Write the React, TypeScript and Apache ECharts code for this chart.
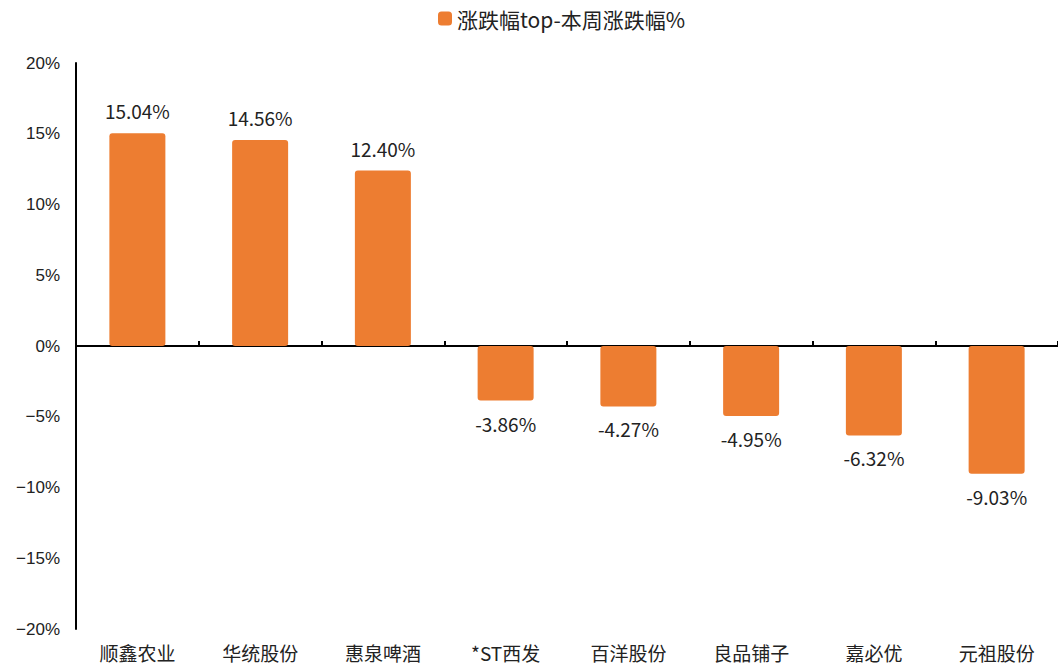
import React, { useEffect, useRef } from "react";
import * as echarts from "echarts";

const categories = ["顺鑫农业", "华统股份", "惠泉啤酒", "*ST西发", "百洋股份", "良品铺子", "嘉必优", "元祖股份"];
const values = [15.04, 14.56, 12.4, -3.86, -4.27, -4.95, -6.32, -9.03];
const seriesName = "涨跌幅top-本周涨跌幅%";
const yTicks = { min: -20, max: 20, interval: 5 };

export default function App() {
  const ref = useRef<HTMLDivElement>(null);
  useEffect(() => {
    if (!ref.current) return;
    const chart = echarts.init(ref.current, null, { renderer: "svg" });
    chart.setOption({
      animation: false,
      backgroundColor: "#ffffff",
      legend: {
        top: 3,
        left: 433,
        itemWidth: 14,
        itemHeight: 14,
        itemGap: 6,
        icon: "roundRect",
        textStyle: { fontFamily: "Noto Sans CJK SC", fontSize: 21, color: "#222" },
        data: [seriesName],
      },
      grid: { left: 76, width: 1000, top: 63, height: 566, containLabel: false },
      xAxis: [
        {
          type: "category",
          data: categories,
          position: "bottom",
          axisLine: { show: false, onZero: false },
          axisTick: { show: false },
          axisLabel: {
            fontFamily: "Noto Sans CJK SC",
            fontSize: 19,
            lineHeight: 22,
            color: "#222",
            margin: 12,
            interval: 0,
          },
        },
        {
          type: "category",
          data: categories,
          position: "bottom",
          axisLine: { show: true, onZero: true, onZeroAxisIndex: 0, lineStyle: { color: "#000", width: 2 } },
          axisTick: { show: true, inside: true, length: 5, lineStyle: { color: "#000", width: 2 } },
          axisLabel: { show: false },
        },
      ],
      yAxis: {
        type: "value",
        min: yTicks.min,
        max: yTicks.max,
        interval: yTicks.interval,
        splitLine: { show: false },
        axisLine: { show: true, lineStyle: { color: "#000", width: 2 } },
        axisTick: { show: false },
        axisLabel: {
          fontFamily: "Liberation Sans",
          fontSize: 17,
          color: "#222",
          margin: 16,
          formatter: (v: number) => (v < 0 ? "\u2212" + Math.abs(v) : String(v)) + "%",
        },
      },
      series: [
        {
          name: seriesName,
          type: "bar",
          xAxisIndex: 0,
          data: values.map((v) => ({
            value: v,
            label: { position: v >= 0 ? "top" : "bottom" },
          })),
          barWidth: 56,
          itemStyle: { color: "#ED7D31", borderRadius: 3 },
          label: {
            show: true,
            distance: 13,
            fontFamily: "Noto Sans CJK SC",
            fontSize: 19,
            color: "#222",
            formatter: (p: any) => p.value.toFixed(2) + "%",
          },
        },
      ],
    });
    return () => chart.dispose();
  }, []);
  return <div ref={ref} style={{ position: "fixed", left: 0, top: 0, width: 1058, height: 665 }} />;
}
